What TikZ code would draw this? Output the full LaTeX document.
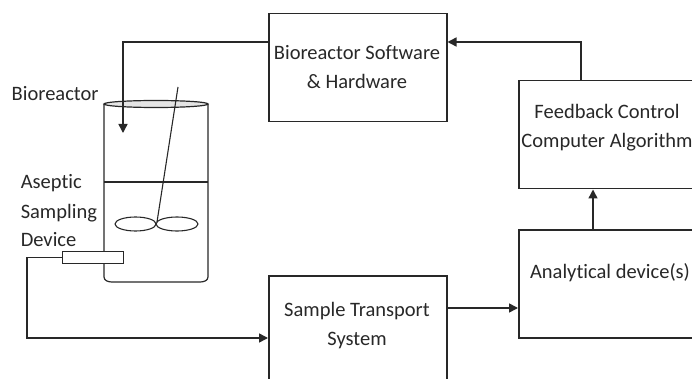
\documentclass[tikz,border=0pt]{standalone}
\usepackage{fontspec}
\setmainfont{Carlito}[Ligatures=NoCommon]
\usetikzlibrary{arrows.meta,calc}
\definecolor{ink}{RGB}{40,40,40}
\begin{document}
\begin{tikzpicture}[x=1pt,y=-1pt,
  line width=1.5pt, draw=ink, text=ink,
  font=\fontsize{20.5}{29}\selectfont,
  box/.style={draw, rectangle, inner sep=0pt, anchor=north west},
  lbl/.style={inner sep=0pt, align=center},
  side/.style={inner sep=0pt, anchor=base west},
  flow/.style={-{Triangle[length=9pt,width=9pt]}}]
\clip (0,0) rectangle (692,379);
\fill[white] (0,0) rectangle (692,379);

% process blocks
\node[box, minimum width=178pt, minimum height=108pt] (sw) at (268,13) {};
\node[box, minimum width=180pt, minimum height=108pt] (fb) at (518,80) {};
\node[box, minimum width=185pt, minimum height=108pt] (an) at (518,229) {};
\node[box, minimum width=178pt, minimum height=140pt] (st) at (268,275) {};

\node[lbl] (swt) at (357,67.5) {Bioreactor Software\\\& Hardware};
\node[lbl] (fbt) at (607,127.5) {Feedback Control\\Computer Algorithm};
\node[lbl] (ant) at (610,273) {Analytical device(s)};
\node[lbl] (stt) at (357,325.5) {Sample Transport\\System};

% bioreactor vessel
\draw[line width=1.2pt] (104,104) -- (104,277) to[out=-90,in=180] (112,282) -- (200,282) to[out=0,in=-90] (208,277) -- (208,104);
\draw[line width=1.2pt, fill=gray!20] (156,104) ellipse [x radius=52, y radius=3.5];
\draw[line width=1.2pt] (104,182) -- (208,182);
\draw[line width=1.1pt] (178,87) -- (157,222);
\draw[line width=1.1pt] (135.5,224) ellipse [x radius=20.5, y radius=7];
\draw[line width=1.1pt] (177,224) ellipse [x radius=21, y radius=7];

% aseptic sampling port
\node[box, fill=white, minimum width=61pt, minimum height=12pt, line width=1.2pt] (sd) at (62,251) {};

% side labels
\node[side] (lb) at (11,101) {Bioreactor};
\node[side] (la) at (20,189) {Aseptic};
\node[side] (ls) at (20,218.5) {Sampling};
\node[side] (ld) at (20,246) {Device};

\coordinate (bioin) at (123,133);

% connectors
\draw[flow] ([yshift=-29pt]sw.north west) -| (bioin);
\draw[flow] (sd.west) -| (27,338) -- (st.west |- 0,338);
\draw[flow] ([yshift=-33pt]st.north east) -- (an.west |- 0,308);
\draw[flow] (an.north -| 593,0) -- (fb.south -| 593,0);
\draw[flow] (fb.north -| 581,0) |- ([yshift=-29pt]sw.north east);
\end{tikzpicture}
\end{document}
